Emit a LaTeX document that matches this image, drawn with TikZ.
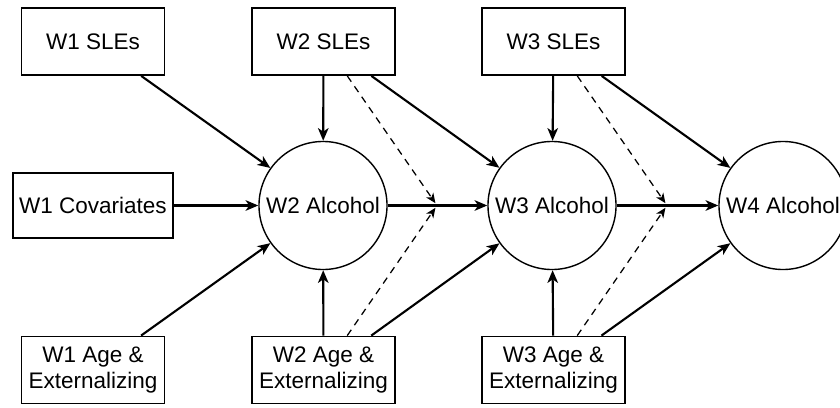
\documentclass[tikz,border=0pt]{standalone}
\usepackage{fontspec}
\setmainfont{Liberation Sans}
\usetikzlibrary{arrows.meta}
\tikzstyle{block} = [rectangle, draw, line width=1.3pt, fill=white,
                 minimum width=3.575cm, minimum height=1.675cm, align=center,
                 font=\fontsize{16}{19}\selectfont]
\tikzstyle{latent} = [circle, draw, line width=1pt, inner sep=0pt,
                 minimum size=3.2cm, font=\fontsize{16}{19}\selectfont]
\tikzstyle{effect} = [draw, line width=1.5pt,
                 -{Stealth[length=9pt,width=7.5pt,inset=2.5pt]}]
\tikzstyle{moderation} = [draw, line width=0.9pt, dash pattern=on 5pt off 4pt,
                 shorten >=2pt, -{Stealth[length=7pt,width=6pt,inset=2pt]}]

\begin{document}
\begin{tikzpicture}[x=0.025cm, y=-0.025cm]

\clip (0,0) rectangle (840,407);

\node [block] at (93,41.5) (sle1) {W1 SLEs};
\node [block] at (323.5,41.5) (sle2) {W2 SLEs};
\node [block] at (553.5,41.5) (sle3) {W3 SLEs};

\node [block, minimum width=4cm, minimum height=1.625cm] at (93,205.5) (cov1) {W1 Covariates};
\node [latent] at (323,205.5) (alc2) {W2 Alcohol};
\node [latent] at (552,205.5) (alc3) {W3 Alcohol};
\node [latent] at (783,205.5) (alc4) {W4 Alcohol};

\node [block] at (93,370) (ext1) {W1 Age \&\\Externalizing};
\node [block] at (323.5,370) (ext2) {W2 Age \&\\Externalizing};
\node [block] at (553.5,370) (ext3) {W3 Age \&\\Externalizing};

% moderation points
\coordinate (mod2) at (437,205.5);
\coordinate (mod3) at (667,205.5);

\path [effect] (sle1) -- (alc2);
\path [effect] (cov1) -- (alc2);
\path [effect] (ext1) -- (alc2);
\path [effect] (sle2) -- (alc2);
\path [effect] (ext2) -- (alc2);
\path [effect] (sle2) -- (alc3);
\path [effect] (ext2) -- (alc3);
\path [effect] (alc2) -- (alc3);
\path [effect] (sle3) -- (alc3);
\path [effect] (ext3) -- (alc3);
\path [effect] (sle3) -- (alc4);
\path [effect] (ext3) -- (alc4);
\path [effect] (alc3) -- (alc4);

\path [moderation] (sle2) -- (mod2);
\path [moderation] (ext2) -- (mod2);
\path [moderation] (sle3) -- (mod3);
\path [moderation] (ext3) -- (mod3);

\end{tikzpicture}
\end{document}
